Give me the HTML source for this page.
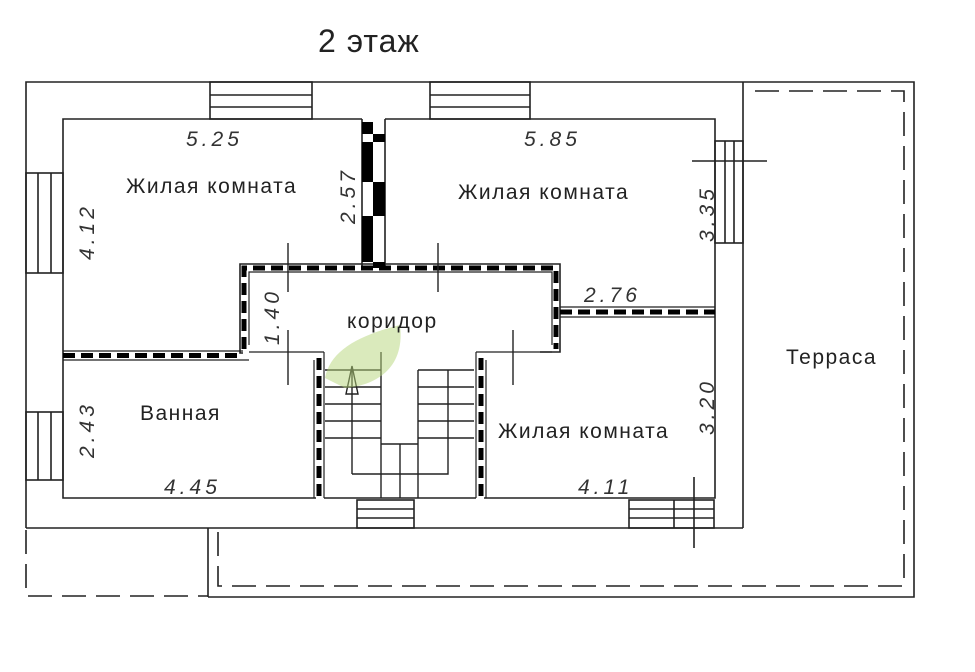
<!DOCTYPE html>
<html><head><meta charset="utf-8"><style>
html,body{margin:0;padding:0;background:#fff;width:975px;height:672px;overflow:hidden}
svg text{font-family:"Liberation Sans","DejaVu Sans",sans-serif}
.t{font-size:21px;fill:#222;letter-spacing:1.5px}
.d{font-size:21px;fill:#333;font-style:italic;letter-spacing:4px}
</style></head><body>
<svg width="975" height="672" viewBox="0 0 975 672" xmlns="http://www.w3.org/2000/svg">
<g stroke="#222" stroke-width="1.6" fill="none">
<polyline points="26,528 26,82 914,82 914,597 208,597"/>
<line x1="26" y1="528" x2="743" y2="528"/>
<line x1="743" y1="82" x2="743" y2="528"/>
<line x1="208" y1="528" x2="208" y2="597"/>
<g stroke-dasharray="24,10">
<polyline points="26,530 26,596 208,596"/>
<polyline points="218,532 218,586 904,586 904,91 748,91"/>
</g>
<polyline points="63,353 63,119 362,119"/>
<polyline points="385,119 715,119 715,498 484,498"/>
<polyline points="63,353 63,498 316,498"/>
<line x1="324" y1="498" x2="476" y2="498"/>
<rect x="210" y="82" width="102" height="37"/><line x1="210" y1="95" x2="312" y2="95"/><line x1="210" y1="107" x2="312" y2="107"/>
<rect x="430" y="82" width="100" height="37"/><line x1="430" y1="95" x2="530" y2="95"/><line x1="430" y1="107" x2="530" y2="107"/>
<rect x="26" y="173" width="37" height="100"/><line x1="38" y1="173" x2="38" y2="273"/><line x1="51" y1="173" x2="51" y2="273"/>
<rect x="26" y="412" width="37" height="68"/><line x1="38" y1="412" x2="38" y2="480"/><line x1="51" y1="412" x2="51" y2="480"/>
<rect x="715" y="141" width="28" height="102"/><line x1="725" y1="141" x2="725" y2="243"/><line x1="734" y1="141" x2="734" y2="243"/>
<line x1="692" y1="161" x2="767" y2="161"/>
<rect x="357" y="500" width="57" height="28"/><line x1="357" y1="509" x2="414" y2="509"/><line x1="357" y1="518" x2="414" y2="518"/>
<rect x="629" y="500" width="85" height="28"/><line x1="629" y1="509" x2="714" y2="509"/><line x1="629" y1="518" x2="714" y2="518"/><line x1="674" y1="500" x2="674" y2="528"/>
<line x1="694" y1="477" x2="694" y2="548"/>
<polyline points="243,353 240,353 240,264 560,264 560,352 540,352" />
<polyline points="249,345 249,272 552,272 552,345" stroke-width="1.2"/>
<line x1="362" y1="119" x2="362" y2="268"/><line x1="385" y1="119" x2="385" y2="268"/>
<line x1="63" y1="351" x2="243" y2="351" stroke-width="1.2"/><line x1="63" y1="360" x2="249" y2="360" stroke-width="1.2"/>
<line x1="560" y1="307" x2="715" y2="307" stroke-width="1.2"/><line x1="560" y1="317" x2="715" y2="317" stroke-width="1.2"/>
<line x1="314" y1="360" x2="314" y2="498" stroke-width="1.2"/><line x1="324" y1="352" x2="324" y2="498" stroke-width="1.2"/>
<line x1="476" y1="352" x2="476" y2="498" stroke-width="1.2"/><line x1="486" y1="360" x2="486" y2="498" stroke-width="1.2"/>
<line x1="249" y1="352" x2="324" y2="352" stroke-width="1.2"/>
<line x1="476" y1="352" x2="552" y2="352" stroke-width="1.2"/>
</g>
<g stroke="#000" stroke-width="5" fill="none" stroke-dasharray="12,6">
<polyline points="244,349 244,268 556,268 556,349"/>
<line x1="63" y1="355.5" x2="243" y2="355.5"/>
<line x1="560" y1="312" x2="715" y2="312"/>
<line x1="319" y1="358" x2="319" y2="498"/>
<line x1="481" y1="358" x2="481" y2="498"/>
</g>
<g fill="#000">
<rect x="362" y="122" width="11" height="12"/>
<rect x="373" y="134" width="12" height="8"/>
<rect x="362" y="142" width="11" height="40"/>
<rect x="373" y="182" width="12" height="34"/>
<rect x="362" y="216" width="11" height="46"/>
<rect x="373" y="262" width="12" height="6"/>
</g>
<g stroke="#222" stroke-width="1.4" fill="none">
<line x1="325" y1="370" x2="381" y2="370"/>
<line x1="325" y1="387" x2="381" y2="387"/>
<line x1="325" y1="404" x2="381" y2="404"/>
<line x1="325" y1="421" x2="381" y2="421"/>
<line x1="325" y1="438" x2="381" y2="438"/>
<line x1="381" y1="352" x2="381" y2="444"/>
<line x1="352" y1="370" x2="352" y2="474"/>
<polyline points="352,474 448,474 448,370"/>
<line x1="381" y1="444" x2="418" y2="444"/>
<line x1="418" y1="370" x2="418" y2="498"/>
<line x1="381" y1="444" x2="381" y2="498"/>
<line x1="400" y1="444" x2="400" y2="498"/>
<line x1="418" y1="370" x2="474" y2="370"/>
<line x1="418" y1="387" x2="474" y2="387"/>
<line x1="418" y1="404" x2="474" y2="404"/>
<line x1="418" y1="421" x2="474" y2="421"/>
<line x1="418" y1="438" x2="474" y2="438"/>
<polygon points="352,366 346,394 358,394" />
<line x1="288" y1="243" x2="288" y2="292"/>
<line x1="438" y1="243" x2="438" y2="292"/>
<line x1="288" y1="330" x2="288" y2="385"/>
<line x1="513" y1="330" x2="513" y2="385"/>
</g>
<path d="M325,378 C330,350 360,335 400,325 C405,365 380,385 345,388 Z" fill="#b5d67a" opacity="0.5"/>
<text x="318" y="52" style="font-size:32px;letter-spacing:1px" fill="#222">2 этаж</text>
<text class="t" x="126" y="193">Жилая комната</text>
<text class="t" x="458" y="199">Жилая комната</text>
<text class="t" x="347" y="328">коридор</text>
<text class="t" x="140" y="420">Ванная</text>
<text class="t" x="498" y="438">Жилая комната</text>
<text class="t" x="786" y="364">Терраса</text>
<text class="d" x="186" y="146">5.25</text>
<text class="d" x="524" y="146">5.85</text>
<text class="d" x="164" y="494">4.45</text>
<text class="d" x="578" y="494">4.11</text>
<text class="d" x="584" y="302">2.76</text>
<text class="d" transform="translate(94,260) rotate(-90)">4.12</text>
<text class="d" transform="translate(355,224) rotate(-90)">2.57</text>
<text class="d" transform="translate(714,242) rotate(-90)">3.35</text>
<text class="d" transform="translate(279,345) rotate(-90)">1.40</text>
<text class="d" transform="translate(94,458) rotate(-90)">2.43</text>
<text class="d" transform="translate(714,435) rotate(-90)">3.20</text>
</svg>
</body></html>
